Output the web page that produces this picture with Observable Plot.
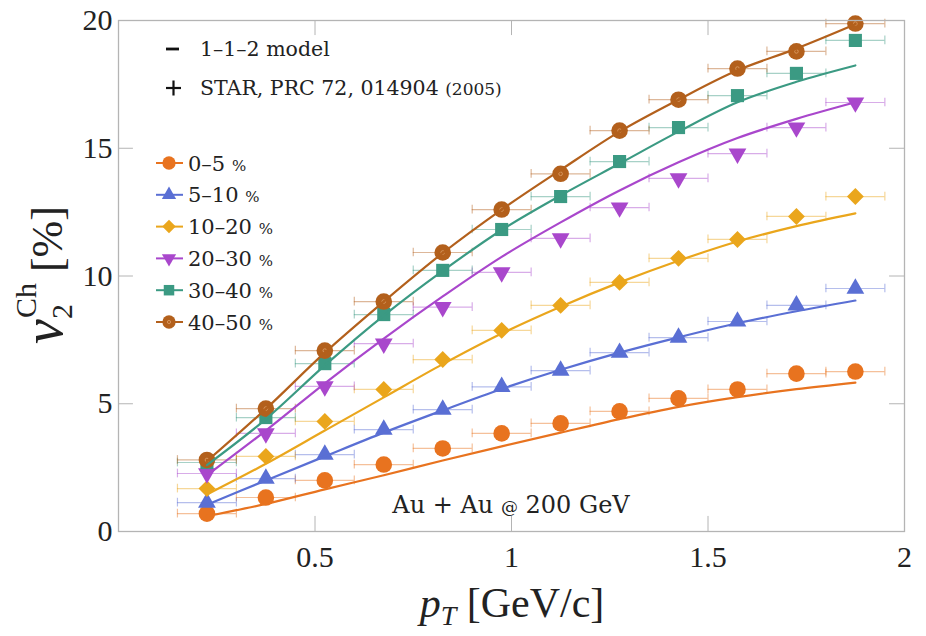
<!DOCTYPE html>
<html>
<head>
<meta charset="utf-8">
<script src="https://cdn.jsdelivr.net/npm/d3@7"></script>
<script src="https://cdn.jsdelivr.net/npm/@observablehq/plot@0.6"></script>
<style>
  body { margin: 0; background: #fff; }
  #chart { width: 926px; height: 636px; }
</style>
</head>
<body>
<div id="chart"></div>
<script>
// Transverse-momentum bin centres (GeV/c) and half bin width
const pT = [0.225, 0.375, 0.525, 0.675, 0.825, 0.975, 1.125, 1.275, 1.425, 1.575, 1.725, 1.875];
const binHalfWidth = 0.075;

// Centrality classes
const centralities = ["0–5", "5–10", "10–20", "20–30", "30–40", "40–50"];
const seriesColors = ["#e8731f", "#5a6fd4", "#eaa61c", "#a947cc", "#3b9a83", "#b3601c"];

// STAR measurements, v2 of charged hadrons [%]
const star0to5   = [0.70, 1.33, 2.00, 2.62, 3.25, 3.84, 4.23, 4.70, 5.21, 5.56, 6.18, 6.26];
const star5to10  = [1.13, 2.07, 3.01, 3.99, 4.77, 5.66, 6.30, 7.00, 7.59, 8.22, 8.85, 9.51];
const star10to20 = [1.68, 2.94, 4.31, 5.56, 6.73, 7.87, 8.85, 9.75, 10.69, 11.43, 12.33, 13.11];
const star20to30 = [2.27, 3.84, 5.68, 7.35, 8.78, 10.14, 11.47, 12.68, 13.82, 14.79, 15.81, 16.79];
const star30to40 = [2.70, 4.46, 6.57, 8.49, 10.22, 11.82, 13.11, 14.48, 15.81, 17.06, 17.93, 19.22];
const star40to50 = [2.80, 4.81, 7.08, 9.00, 10.92, 12.60, 14.00, 15.69, 16.90, 18.12, 18.79, 19.88];

// 1-1-2 model predictions [%]
const model0to5   = [0.60, 1.08, 1.65, 2.20, 2.78, 3.33, 3.87, 4.40, 4.88, 5.26, 5.57, 5.83];
const model5to10  = [1.05, 2.00, 2.94, 3.87, 4.74, 5.58, 6.33, 7.00, 7.60, 8.15, 8.62, 9.04];
const model10to20 = [1.45, 2.65, 3.95, 5.25, 6.55, 7.75, 8.80, 9.75, 10.60, 11.35, 11.95, 12.45];
const model20to30 = [2.20, 3.95, 5.80, 7.55, 9.20, 10.75, 12.10, 13.35, 14.45, 15.40, 16.15, 16.80];
const model30to40 = [2.60, 4.40, 6.50, 8.45, 10.20, 11.80, 13.15, 14.40, 15.65, 16.80, 17.60, 18.24];
const model40to50 = [2.75, 4.80, 7.00, 9.00, 10.90, 12.60, 14.15, 15.65, 16.90, 18.05, 18.90, 19.85];

// Axis ticks
const xTicks = [0.5, 1, 1.5, 2];
const yTicks = [0, 5, 10, 15, 20];

const starSeries = [star0to5, star5to10, star10to20, star20to30, star30to40, star40to50];
const modelSeries = [model0to5, model5to10, model10to20, model20to30, model30to40, model40to50];

// Downward-pointing triangle symbol
const sqrt3 = Math.sqrt(3);
const triangleDown = {
  draw(context, size) {
    const y = -Math.sqrt(size / (sqrt3 * 3));
    context.moveTo(0, -y * 2);
    context.lineTo(-sqrt3 * y, y);
    context.lineTo(sqrt3 * y, y);
    context.closePath();
  }
};
const symbols = ["circle", "triangle", "diamond2", triangleDown, "square", "circle"];
const legendSymbols = [d3.symbolCircle, d3.symbolTriangle, d3.symbolDiamond2, triangleDown, d3.symbolSquare, d3.symbolCircle];
const symbolR = [8.3, 6.6, 7.6, 6.6, 7.4, 8.3];

const rows = starSeries.map(vals => pT.map((p, i) => ({pT: p, v: vals[i]})));
const curves = modelSeries.map(vals => pT.map((p, i) => ({pT: p, v: vals[i]})));

const frameGray = "#b4b4b4";
const marks = [];

// error bars (horizontal bin width with end caps)
rows.forEach((data, k) => {
  const c = seriesColors[k];
  const o = {stroke: c, strokeOpacity: 0.45, strokeWidth: 1.2};
  marks.push(Plot.ruleY(data, {y: "v", x1: d => d.pT - binHalfWidth, x2: d => d.pT + binHalfWidth, ...o}));
  marks.push(Plot.ruleX(data, {x: d => d.pT - binHalfWidth, y1: d => d.v - 0.17, y2: d => d.v + 0.17, ...o}));
  marks.push(Plot.ruleX(data, {x: d => d.pT + binHalfWidth, y1: d => d.v - 0.17, y2: d => d.v + 0.17, ...o}));
});

// data markers
rows.forEach((data, k) => {
  marks.push(Plot.dot(data, {x: "pT", y: "v", symbol: symbols[k], r: symbolR[k], fill: seriesColors[k], stroke: "none"}));
});
// faint light centre on the 40-50 % circles
marks.push(Plot.dot(rows[5], {x: "pT", y: "v", r: 1.8, fill: "none", stroke: "#d99a62", strokeWidth: 0.9}));

// model curves
curves.forEach((data, k) => {
  marks.push(Plot.line(data, {x: "pT", y: "v", stroke: seriesColors[k], strokeWidth: 2.2, curve: "catmull-rom"}));
});

// inward ticks on all four sides
marks.push(Plot.ruleX(xTicks, {x: d => d, y1: 0, y2: 0.59, stroke: frameGray}));
marks.push(Plot.ruleX(xTicks, {x: d => d, y1: 20 - 0.59, y2: 20, stroke: frameGray}));
marks.push(Plot.ruleY(yTicks, {y: d => d, x1: 0, x2: 0.038, stroke: frameGray}));
marks.push(Plot.ruleY(yTicks, {y: d => d, x1: 2 - 0.038, x2: 2, stroke: frameGray}));
marks.push(Plot.frame({stroke: frameGray, strokeWidth: 1.3}));

marks.push(Plot.axisX(xTicks, {tickSize: 0, tickPadding: 14, fontSize: 30, label: null, tickFormat: d => String(d)}));
marks.push(Plot.axisY(yTicks, {tickSize: 0, tickPadding: 6, fontSize: 30, label: null, tickFormat: d => String(d)}));

const chart = Plot.plot({
  width: 926,
  height: 636,
  marginTop: 20,
  marginBottom: 105,
  marginLeft: 118,
  marginRight: 22,
  x: {domain: [0, 2]},
  y: {domain: [0, 20]},
  style: {fontFamily: "'Liberation Serif', serif", background: "#fff", color: "#222"},
  marks
});

const svg = d3.select(chart);
const sx = chart.scale("x");
const sy = chart.scale("y");

// axis titles
const xTitle = svg.append("text")
  .attr("x", 512).attr("y", 617)
  .attr("text-anchor", "middle")
  .style("font-family", "'Liberation Serif', serif")
  .style("font-size", "42px").attr("fill", "#222");
xTitle.append("tspan").style("font-style", "italic").text("p");
xTitle.append("tspan").style("font-style", "italic").style("font-size", "28px").attr("dy", 8).text("T");
xTitle.append("tspan").attr("dy", -8).text(" [GeV/c]");

const yTitle = svg.append("text")
  .attr("transform", "translate(62,275) rotate(-90)")
  .attr("text-anchor", "middle")
  .style("font-family", "'Liberation Serif', serif")
  .style("font-size", "44px").attr("fill", "#222");
yTitle.append("tspan").style("font-style", "italic").style("font-size", "56px").text("v");
yTitle.append("tspan").style("font-size", "30px").attr("dy", 10).text("2");
yTitle.append("tspan").style("font-size", "30px").attr("dx", -14).attr("dy", -36).text("Ch");
yTitle.append("tspan").attr("dy", 26).text(" [%]");

// model / data key
const keyFont = "'DejaVu Serif', serif";
const key = svg.append("g").style("font-family", keyFont).attr("fill", "#222").attr("text-anchor", "start");
key.append("line").attr("x1", 166).attr("x2", 179).attr("y1", 49).attr("y2", 49).attr("stroke", "#111").attr("stroke-width", 2.8);
key.append("text").attr("x", 200).attr("y", 56).style("font-size", "20.5px").text("1–1–2 model");
key.append("line").attr("x1", 166).attr("x2", 181).attr("y1", 88).attr("y2", 88).attr("stroke", "#111").attr("stroke-width", 2.2);
key.append("line").attr("x1", 173.5).attr("x2", 173.5).attr("y1", 80.5).attr("y2", 95.5).attr("stroke", "#111").attr("stroke-width", 2.2);
const starText = key.append("text").attr("x", 200).attr("y", 95).style("font-size", "20.5px");
starText.append("tspan").text("STAR, PRC 72, 014904 ");
starText.append("tspan").style("font-size", "17px").text("(2005)");

// centrality legend
centralities.forEach((label, k) => {
  const y = 163 + 31.8 * k;
  const g = key.append("g");
  g.append("line").attr("x1", 156).attr("x2", 183).attr("y1", y).attr("y2", y)
    .attr("stroke", seriesColors[k]).attr("stroke-width", 2);
  const size = Math.PI * Math.pow(symbolR[k] * 0.8, 2);
  g.append("path").attr("transform", `translate(169,${y})`)
    .attr("d", d3.symbol(legendSymbols[k], size)()).attr("fill", seriesColors[k]);
  if (k === 5) g.append("circle").attr("cx", 169).attr("cy", y).attr("r", 1.6).attr("fill", "none").attr("stroke", "#d99a62").attr("stroke-width", 0.9);
  const t = g.append("text").attr("x", 188).attr("y", y + 7.5).style("font-size", "21px");
  t.append("tspan").text(label + " ");
  t.append("tspan").style("font-size", "15px").text("%");
});

// collision system annotation
const ann = svg.append("text").attr("x", sx.apply(1)).attr("y", sy.apply(1) + 8)
  .attr("text-anchor", "middle").style("font-family", keyFont).style("font-size", "24px").attr("fill", "#222");
ann.append("tspan").text("Au + Au ");
ann.append("tspan").style("font-size", "17px").text("@");
ann.append("tspan").text(" 200 GeV");

document.getElementById("chart").appendChild(chart);
</script>
</body>
</html>
